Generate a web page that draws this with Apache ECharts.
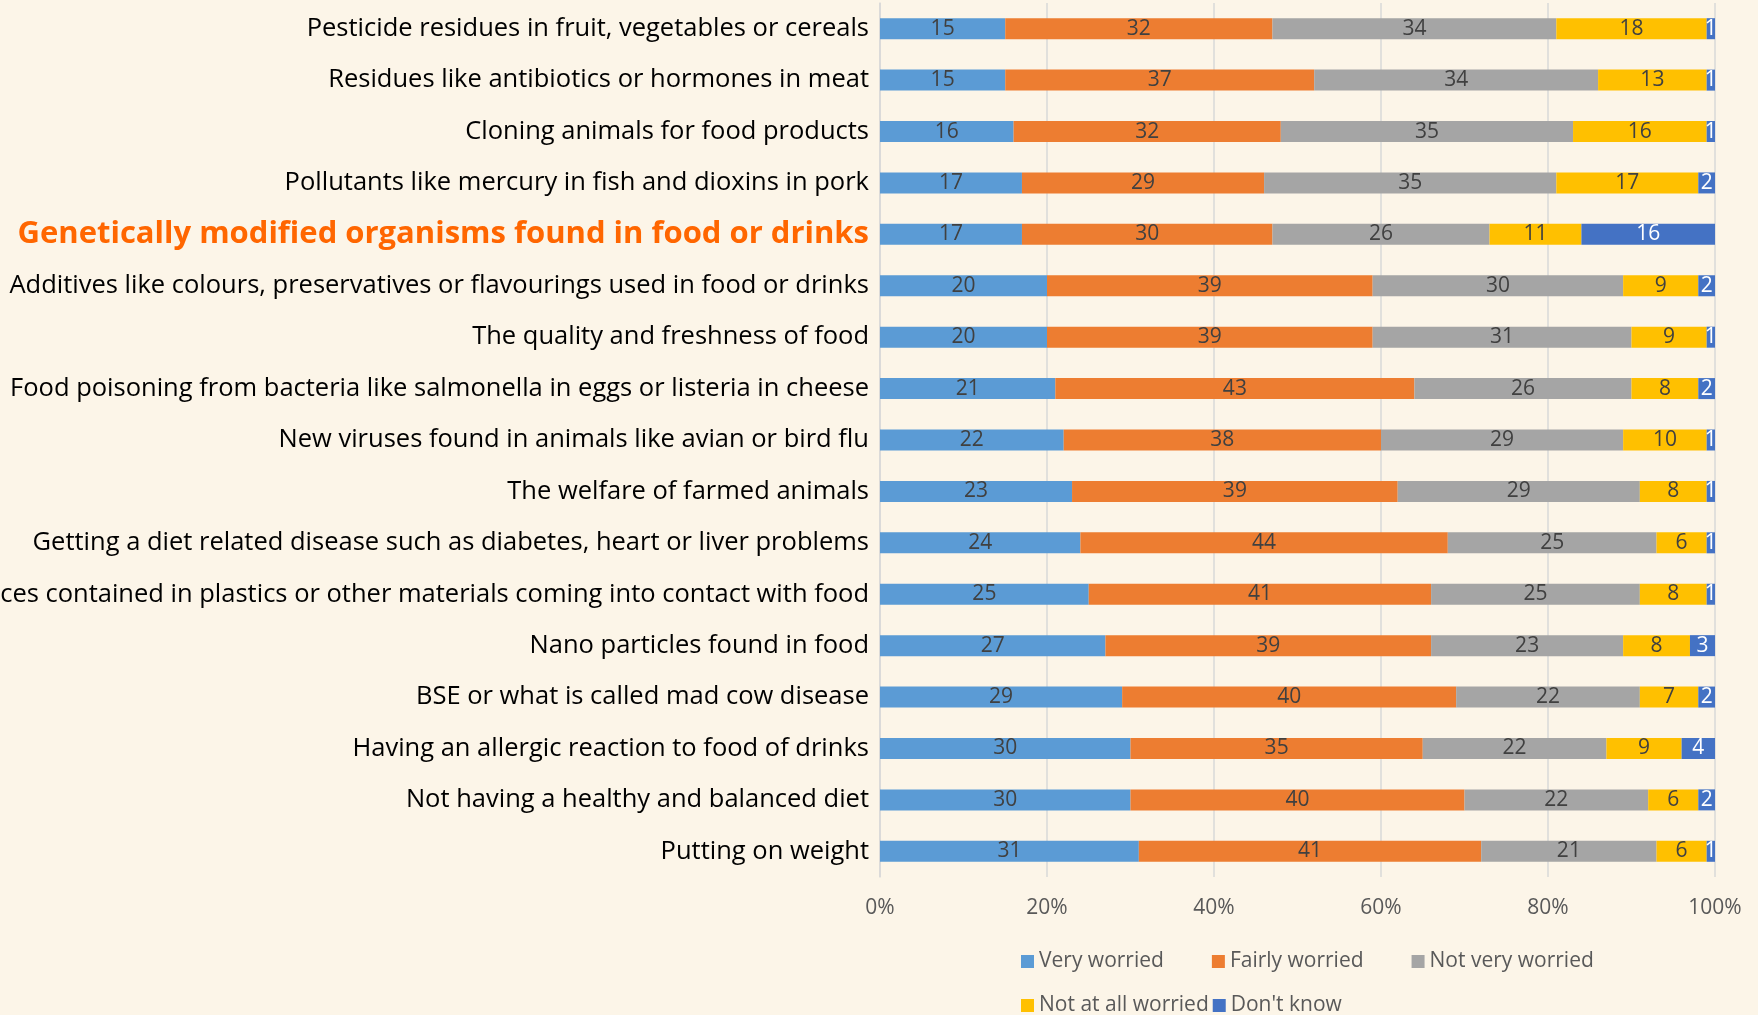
<!DOCTYPE html>
<html>
<head>
<meta charset="utf-8">
<script src="https://cdn.jsdelivr.net/npm/echarts@6/dist/echarts.min.js"></script>
<style>
  html, body { margin: 0; padding: 0; background: #fcf5e8; }
  #chart { width: 1758px; height: 1015px; }
</style>
</head>
<body>
<div id="chart"></div>
<script>
const categories = [
  'Pesticide residues in fruit, vegetables or cereals',
  'Residues like antibiotics or hormones in meat',
  'Cloning animals for food products',
  'Pollutants like mercury in fish and dioxins in pork',
  'Genetically modified organisms found in food or drinks',
  'Additives like colours, preservatives or flavourings used in food or drinks',
  'The quality and freshness of food',
  'Food poisoning from bacteria like salmonella in eggs or listeria in cheese',
  'New viruses found in animals like avian or bird flu',
  'The welfare of farmed animals',
  'Getting a diet related disease such as diabetes, heart or liver problems',
  'Substances contained in plastics or other materials coming into contact with food',
  'Nano particles found in food',
  'BSE or what is called mad cow disease',
  'Having an allergic reaction to food of drinks',
  'Not having a healthy and balanced diet',
  'Putting on weight'
];
const highlighted = 'Genetically modified organisms found in food or drinks';

const veryWorried   = [15, 15, 16, 17, 17, 20, 20, 21, 22, 23, 24, 25, 27, 29, 30, 30, 31];
const fairlyWorried = [32, 37, 32, 29, 30, 39, 39, 43, 38, 39, 44, 41, 39, 40, 35, 40, 41];
const notVery       = [34, 34, 35, 35, 26, 30, 31, 26, 29, 29, 25, 25, 23, 22, 22, 22, 21];
const notAtAll      = [18, 13, 16, 17, 11,  9,  9,  8, 10,  8,  6,  8,  8,  7,  9,  6,  6];
const dontKnow      = [ 1,  1,  1,  2, 16,  2,  1,  2,  1,  1,  1,  1,  3,  2,  4,  2,  1];

const seriesNames = ['Very worried', 'Fairly worried', 'Not very worried', 'Not at all worried', "Don't know"];
const seriesData = [veryWorried, fairlyWorried, notVery, notAtAll, dontKnow];
const colors = ['#5b9bd5', '#ed7d31', '#a5a5a5', '#ffc000', '#4472c4'];
const xTicks = [0, 20, 40, 60, 80, 100];

const FONT = "'Open Sans', sans-serif";

const chart = echarts.init(document.getElementById('chart'));

const getSeries = () => {
  return seriesNames.map((name, i) => ({
    name,
    type: 'bar',
    stack: 'total',
    barWidth: 21,
    data: seriesData[i],
    itemStyle: { color: colors[i] },
    label: {
      show: true,
      position: 'inside',
      fontFamily: FONT,
      fontSize: 21,
      color: i === 4 ? '#ffffff' : '#404040'
    }
  }));
};

const option = {
  backgroundColor: '#fcf5e8',
  animation: false,
  color: colors,
  textStyle: { fontFamily: FONT },
  grid: { left: 880, right: 43, top: 3, bottom: 138, containLabel: false, outerBoundsMode: 'none' },
  legend: [
    {
      data: seriesNames.slice(0, 3),
      left: 1016,
      top: 946,
      itemWidth: 13,
      itemHeight: 13,
      itemGap: 48,
      icon: 'rect',
      textStyle: { fontFamily: FONT, fontSize: 21, color: '#595959' }
    },
    {
      data: seriesNames.slice(3),
      left: 1016,
      top: 990,
      itemWidth: 13,
      itemHeight: 13,
      itemGap: 4,
      icon: 'rect',
      textStyle: { fontFamily: FONT, fontSize: 21, color: '#595959' }
    }
  ],
  xAxis: {
    type: 'value',
    min: 0,
    max: 100,
    interval: 20,
    axisLine: { show: false },
    axisTick: { show: false },
    axisLabel: {
      formatter: (v) => (xTicks.includes(v) ? v + '%' : ''),
      fontFamily: FONT,
      fontSize: 21,
      color: '#595959',
      margin: 21
    },
    splitLine: { lineStyle: { color: '#d9d9d9', width: 1.5 } }
  },
  yAxis: {
    type: 'category',
    inverse: true,
    data: categories,
    axisTick: { show: false },
    axisLine: { show: true, lineStyle: { color: '#d9d9d9', width: 1.5 } },
    axisLabel: {
      margin: 11,
      fontFamily: FONT,
      fontSize: 25.5,
      color: '#000000',
      formatter: (v) => (v === highlighted ? '{hl|' + v + '}' : v),
      rich: {
        hl: { fontFamily: FONT, fontSize: 31, fontWeight: 'bold', color: '#ff6600' }
      }
    }
  },
  series: getSeries()
};

chart.setOption(option);
</script>
</body>
</html>
